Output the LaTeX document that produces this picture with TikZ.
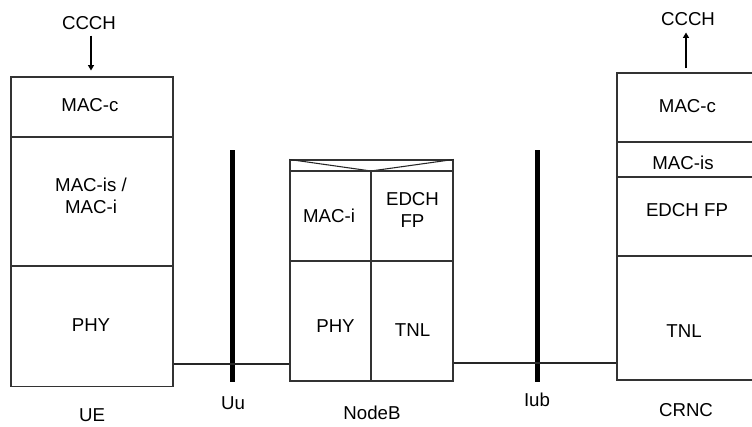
\documentclass[tikz,border=0pt]{standalone}
\usepackage{fontspec}
\setmainfont{Liberation Sans}
\usetikzlibrary{arrows.meta}
\begin{document}
\begin{tikzpicture}[x=0.75pt,y=-0.75pt,
  cell/.style={draw=black!80, line width=0.8pt, inner sep=0pt, minimum width=#1, anchor=center},
  txt/.style={inner sep=0pt, align=center, font=\fontsize{14}{16.5}\selectfont},
  conn/.style={draw=black!85, line width=0.8pt},
  bar/.style={draw=black, line width=3.8pt},
  arr/.style={draw=black, line width=0.8pt, -{Triangle[length=4pt,width=4.5pt]}}]
\useasboundingbox (0,0) rectangle (752,426);
% UE
\node[cell=121.5pt, minimum height=45pt] (ueMAC) at (92,107) {};
\node[cell=121.5pt, minimum height=96.75pt] (ueIS) at (92,201.5) {};
\node[cell=121.5pt, minimum height=90.4pt] (uePHY) at (92,326.3) {};
\node[txt] at (90,105.5) {MAC-c};
\node[txt] at (91,196) {MAC-is /\\MAC-i};
\node[txt] at (91,325.5) {PHY};
\node[txt] (ccchL) at (89,23) {CCCH};
\draw[arr, shorten <=4.3pt, shorten >=4.5pt] (ccchL.south -| 91,0) -- (ueMAC.north -| 91,0);
% NodeB
\node[cell=61.5pt, minimum height=8.25pt, minimum width=122.25pt] (nbHead) at (371.5,165.5) {};
\draw[conn] (nbHead.north west) -- (371,171) -- (nbHead.north east);
\node[cell=60.75pt, minimum height=67.5pt] (nbMAC) at (330.5,216) {};
\node[cell=61.5pt, minimum height=67.5pt] (nbFP) at (412,216) {};
\node[cell=60.75pt, minimum height=90pt] (nbPHY) at (330.5,321) {};
\node[cell=61.5pt, minimum height=90pt] (nbTNL) at (412,321) {};
\node[txt] at (329,216) {MAC-i};
\node[txt] at (412.5,209.5) {EDCH\\FP};
\node[txt] at (335.5,326.5) {PHY};
\node[txt] at (412.5,330) {TNL};
% CRNC
\node[cell=107.25pt, minimum height=51.75pt] (crMAC) at (688.5,107.5) {};
\node[cell=107.25pt, minimum height=26.25pt] (crIS) at (688.5,159.5) {};
\node[cell=107.25pt, minimum height=59.25pt] (crFP) at (688.5,216.5) {};
\node[cell=107.25pt, minimum height=93pt] (crTNL) at (688.5,318) {};
\node[txt] at (687.5,106.5) {MAC-c};
\node[txt] at (683,162.5) {MAC-is};
\node[txt] at (687,210) {EDCH FP};
\node[txt] at (684,331.5) {TNL};
\node[txt] (ccchR) at (688,19) {CCCH};
\draw[arr, shorten <=3pt, shorten >=5pt] (crMAC.north -| 686,0) -- (ccchR.south -| 686,0);
% interfaces
\coordinate (uuT) at (232.5,150);
\coordinate (uuB) at (232.5,382);
\coordinate (iubT) at (537.5,150);
\coordinate (iubB) at (537.5,382);
\draw[bar] (uuT) -- (uuB);
\draw[bar] (iubT) -- (iubB);
\coordinate (h1) at (0,364);
\coordinate (h2) at (0,363);
\draw[conn] (uePHY.east |- h1) -- (nbPHY.west |- h1);
\draw[conn] (nbTNL.east |- h2) -- (crTNL.west |- h2);
% labels
\node[txt] (lUE) at (92,415) {UE};
\node[txt] (lUu) at (233,403) {Uu};
\node[txt] (lNB) at (372,413) {NodeB};
\node[txt] (lIub) at (537,400) {Iub};
\node[txt] (lCR) at (686,410) {CRNC};
\end{tikzpicture}
\end{document}
